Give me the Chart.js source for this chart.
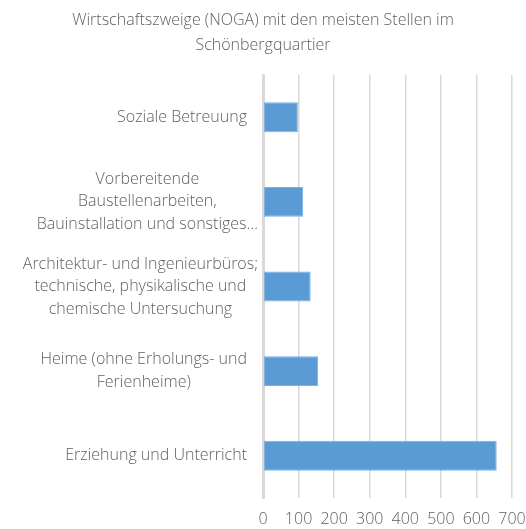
<!DOCTYPE html>
<html>
<head>
<meta charset="utf-8">
<script src="https://cdn.jsdelivr.net/npm/chart.js@4.4.1/dist/chart.umd.min.js"></script>
<style>
html,body{margin:0;padding:0;background:#fff;overflow:hidden;}
#wrap{width:526px;height:529px;position:relative;}
</style>
</head>
<body>
<div id="wrap"><canvas id="c"></canvas></div>
<script>
const titleLines=['Wirtschaftszweige (NOGA) mit den meisten Stellen im','Schönbergquartier'];
const categories=[
  ['Soziale Betreuung'],
  ['Vorbereitende','Baustellenarbeiten,','Bauinstallation und sonstiges…'],
  ['Architektur- und Ingenieurbüros;','technische, physikalische und','chemische Untersuchung'],
  ['Heime (ohne Erholungs- und','Ferienheime)'],
  ['Erziehung und Unterricht']
];
const stellen=[98,113,134,155,657];
const xTicks=[0,100,200,300,400,500,600,700];

const FONT='"Open Sans", sans-serif';
const TXT='#5f5f5f';

// Excel-style category labels: each line centred inside its block, block right-aligned
const catLabels={
  id:'catLabels',
  afterDraw(chart){
    const ctx=chart.ctx, y=chart.scales.y;
    ctx.save();
    ctx.font='300 16px '+FONT;
    ctx.fillStyle=TXT;
    ctx.textAlign='center';
    ctx.textBaseline='middle';
    const lh=22.5;
    categories.forEach((lines,i)=>{
      const w=Math.max(...lines.map(l=>ctx.measureText(l).width));
      const right=w>213?258:247;
      const cx=right-w/2;
      const cy=y.getPixelForValue(i);
      lines.forEach((l,k)=>ctx.fillText(l,cx,cy+(k-(lines.length-1)/2)*lh));
    });
    ctx.restore();
  }
};

new Chart(document.getElementById('c'),{
  type:'bar',
  data:{labels:categories,datasets:[{data:stellen,backgroundColor:'#5B9BD5',borderColor:'#7DB0DF',borderWidth:1,borderSkipped:false,barPercentage:0.354,categoryPercentage:1}]},
  options:{
    indexAxis:'y',responsive:true,maintainAspectRatio:false,animation:false,
    layout:{padding:0},
    plugins:{
      legend:{display:false},tooltip:{enabled:false},
      title:{display:true,text:titleLines,color:TXT,font:{family:FONT,size:16,weight:'300',lineHeight:1.5625},padding:{top:8,bottom:17}}
    },
    scales:{
      x:{min:0,max:700,afterBuildTicks:s=>{s.ticks=xTicks.map(v=>({value:v}));},
        afterFit:s=>{s.height=31;s.paddingRight=14;s.paddingLeft=0;},
        ticks:{color:TXT,font:{family:FONT,size:16,weight:'300'},padding:12,maxRotation:0},
        grid:{color:'#d9d9d9',lineWidth:1.5,drawTicks:false},border:{display:false}},
      y:{afterFit:s=>{s.width=263;s.paddingTop=0;s.paddingBottom=0;},ticks:{display:false},
        grid:{display:false},border:{color:'#d9d9d9',width:3}}
    }
  },
  plugins:[catLabels]
});
</script>
</body>
</html>
